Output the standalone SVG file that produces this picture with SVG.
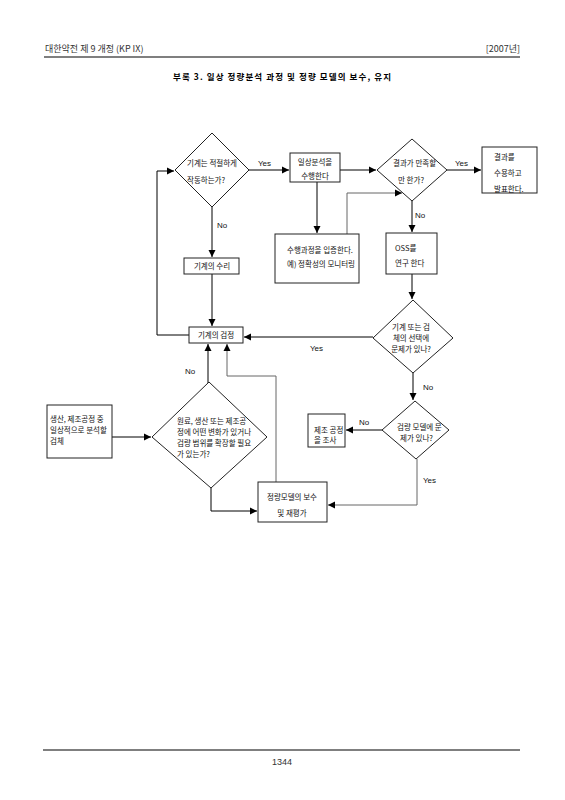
<svg xmlns="http://www.w3.org/2000/svg" width="565" height="800" viewBox="0 0 565 800">
<defs>
<marker id="ah" markerUnits="userSpaceOnUse" markerWidth="8" markerHeight="8" refX="7" refY="4" orient="auto">
<path d="M0,0.5 L7,4 L0,7.5 Z" fill="#000"/>
</marker>
<style>
.kr{font-family:"Noto Sans CJK KR","Noto Sans",sans-serif;font-size:7.5px;fill:#111}
.lb{font-family:"Liberation Sans",Arial,sans-serif;font-size:8px;fill:#111}
.hd{font-family:"Noto Sans CJK KR","Noto Sans",sans-serif;font-size:9px;fill:#333}
.box{fill:#fff;stroke:#222;stroke-width:1}
.c{fill:none;stroke:#000;stroke-width:1}
.g{fill:none;stroke:#666;stroke-width:1}
.m{text-anchor:middle}
</style>
</defs>
<rect width="565" height="800" fill="#fff"/>
<g id="header">
<text class="hd" x="45" y="52">대한약전 제 9 개정 (KP IX)</text>
<text class="hd" x="520" y="52" text-anchor="end">[2007년]</text>
<line x1="44" y1="57" x2="520" y2="57" stroke="#000" stroke-width="1.2"/>
<text x="173" y="80" textLength="218" lengthAdjust="spacing" style="font-family:'Noto Sans CJK KR',sans-serif;font-size:8.5px;font-weight:bold;fill:#000">부록 3. 일상 정량분석 과정 및 정량 모델의 보수, 유지</text>
</g>
<g id="connectors">
<path class="c" d="M249,170 H289" marker-end="url(#ah)"/>
<path class="c" d="M340,170 H376" marker-end="url(#ah)"/>
<path class="c" d="M447,170 H481" marker-end="url(#ah)"/>
<path class="c" d="M317,182 V233" marker-end="url(#ah)"/>
<path class="g" d="M347,234 V193 H402" marker-end="url(#ah)"/>
<path class="c" d="M412,201 V232" marker-end="url(#ah)"/>
<path class="c" d="M412,274 V299" marker-end="url(#ah)"/>
<path class="c" d="M373,337 H244" marker-end="url(#ah)"/>
<path class="c" d="M212,207 V257" marker-end="url(#ah)"/>
<path class="c" d="M212,274 V326" marker-end="url(#ah)"/>
<path class="c" d="M189,335 H157 V171 H174" marker-end="url(#ah)"/>
<path class="c" d="M208,383 V344" marker-end="url(#ah)"/>
<path class="g" d="M276,482 V376 H227 V344" marker-end="url(#ah)"/>
<path class="c" d="M112,437 H151" marker-end="url(#ah)"/>
<path class="c" d="M211,488 V511 H257" marker-end="url(#ah)"/>
<path class="c" d="M413,373 V400" marker-end="url(#ah)"/>
<path class="c" d="M382,430 H346" marker-end="url(#ah)"/>
<path class="g" d="M417,459 V505 H328" marker-end="url(#ah)"/>
<text class="lb" x="258" y="166">Yes</text>
<text class="lb" x="455" y="166">Yes</text>
<text class="lb" x="217" y="228">No</text>
<text class="lb" x="415" y="218">No</text>
<text class="lb" x="310" y="351">Yes</text>
<text class="lb" x="185" y="374">No</text>
<text class="lb" x="423" y="390">No</text>
<text class="lb" x="359" y="425">No</text>
<text class="lb" x="423" y="483">Yes</text>
</g>
<g id="d1">
<path class="box" d="M212,133 L249,170 L212,207 L175,170 Z"/>
<text class="kr" x="187" y="166">기계는 적절하게</text>
<text class="kr" x="187" y="183">작동하는가?</text>
</g>
<g id="b1">
<rect class="box" x="290" y="153" width="50" height="29"/>
<text class="kr m" x="315" y="165">일상분석을</text>
<text class="kr m" x="315" y="179">수행한다</text>
</g>
<g id="d2">
<path class="box" d="M412,139 L447,170 L412,201 L377,170 Z"/>
<text class="kr" x="393" y="166">결과가 만족할</text>
<text class="kr" x="398" y="183">만 한가?</text>
</g>
<g id="b2">
<rect class="box" x="482" y="147" width="55" height="46"/>
<text class="kr" x="494" y="160">결과를</text>
<text class="kr" x="494" y="176">수용하고</text>
<text class="kr" x="494" y="192">발표한다.</text>
</g>
<g id="b3">
<rect class="box" x="275" y="234" width="84" height="49"/>
<text class="kr" x="287" y="253">수행과정을 입증한다.</text>
<text class="kr" x="287" y="267">예) 정확성의 모니터링</text>
</g>
<g id="b4">
<rect class="box" x="386" y="233" width="51" height="41"/>
<text class="kr" x="395" y="251">OSS를</text>
<text class="kr" x="395" y="266">연구 한다</text>
</g>
<g id="b5">
<rect class="box" x="184" y="258" width="55" height="16"/>
<text class="kr m" x="212" y="269">기계의 수리</text>
</g>
<g id="b6">
<rect class="box" x="189" y="327" width="54" height="16"/>
<text class="kr m" x="216" y="338">기계의 검정</text>
</g>
<g id="d3">
<path class="box" d="M413,300 L453,338 L413,373 L373,338 Z"/>
<text class="kr m" x="411" y="330">기계 또는 검</text>
<text class="kr m" x="411" y="341">체의 선택에</text>
<text class="kr m" x="411" y="352">문제가 있나?</text>
</g>
<g id="b7">
<rect class="box" x="47" y="405" width="65" height="53"/>
<text class="kr" x="50" y="422">생산, 제조공정 중</text>
<text class="kr" x="50" y="433">일상적으로 분석할</text>
<text class="kr" x="50" y="444">검체</text>
</g>
<g id="d4">
<path class="box" d="M209,382 L267,437 L211,488 L152,437 Z"/>
<text class="kr" x="177" y="424">원료, 생산 또는 제조공</text>
<text class="kr" x="177" y="435">정에 어떤 변화가 있거나</text>
<text class="kr" x="177" y="446">검량 범위를 확장할 필요</text>
<text class="kr" x="177" y="457">가 있는가?</text>
</g>
<g id="d5">
<path class="box" d="M415,401 L449,430 L416,459 L382,430 Z"/>
<text class="kr" x="397" y="430">검량 모델에 문</text>
<text class="kr" x="400" y="441">제가 있나?</text>
</g>
<g id="b8">
<rect class="box" x="308" y="414" width="37" height="33"/>
<text class="kr" x="314" y="433">제조 공정</text>
<text class="kr" x="314" y="443">을 조사</text>
</g>
<g id="b9">
<rect class="box" x="258" y="482" width="69" height="40"/>
<text class="kr m" x="292" y="500">정량모델의 보수</text>
<text class="kr m" x="292" y="516">및 재평가</text>
</g>
<g id="footer">
<line x1="43" y1="750" x2="520" y2="750" stroke="#000" stroke-width="1.2"/>
<text x="282" y="765" text-anchor="middle" style="font-family:'Liberation Sans',Arial,sans-serif;font-size:9px;fill:#333">1344</text>
</g>
</svg>
